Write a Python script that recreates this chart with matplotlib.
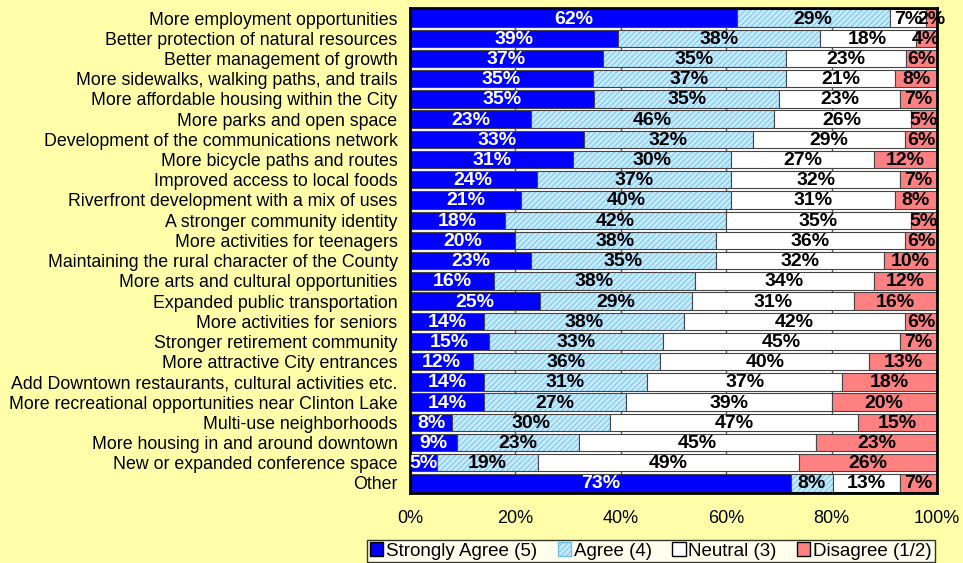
import numpy as np
import matplotlib.pyplot as plt

categories = [
    "More employment opportunities",
    "Better protection of natural resources",
    "Better management of growth",
    "More sidewalks, walking paths, and trails",
    "More affordable housing within the City",
    "More parks and open space",
    "Development of the communications network",
    "More bicycle paths and routes",
    "Improved access to local foods",
    "Riverfront development with a mix of uses",
    "A stronger community identity",
    "More activities for teenagers",
    "Maintaining the rural character of the County",
    "More arts and cultural opportunities",
    "Expanded public transportation",
    "More activities for seniors",
    "Stronger retirement community",
    "More attractive City entrances",
    "Add Downtown restaurants, cultural activities etc.",
    "More recreational opportunities near Clinton Lake",
    "Multi-use neighborhoods",
    "More housing in and around downtown",
    "New or expanded conference space",
    "Other",
]
strongly_agree = [62, 39, 37, 35, 35, 23, 33, 31, 24, 21, 18, 20, 23, 16, 25, 14, 15, 12, 14, 14, 8, 9, 5, 73]
agree = [29, 38, 35, 37, 35, 46, 32, 30, 37, 40, 42, 38, 35, 38, 29, 38, 33, 36, 31, 27, 30, 23, 19, 8]
neutral = [7, 18, 23, 21, 23, 26, 29, 27, 32, 31, 35, 36, 32, 34, 31, 42, 45, 40, 37, 39, 47, 45, 49, 13]
disagree = [2, 4, 6, 8, 7, 5, 6, 12, 7, 8, 5, 6, 10, 12, 16, 6, 7, 13, 18, 20, 15, 23, 26, 7]
series_names = ["Strongly Agree (5)", "Agree (4)", "Neutral (3)", "Disagree (1/2)"]

plt.rcParams['font.family'] = ['Liberation Sans', 'DejaVu Sans']
plt.rcParams['hatch.linewidth'] = 0.6
bg = '#FFFFAA'
hatch_col = '#6FBDEB'

fig = plt.figure(figsize=(9.63, 5.63), dpi=100, facecolor=bg)
ax = fig.add_axes([0.4258, 0.1243, 0.5472, 0.8615])
ax.set_facecolor('white')
ax.set_axisbelow(True)
ax.xaxis.grid(True, color='#555555', linewidth=1)

data = np.array([strongly_agree, agree, neutral, disagree], dtype=float)
shares = data / data.sum(axis=0) * 100
y = np.arange(len(categories))
h = 0.86

faces = ['#0000FF', '#C4EBFF', 'white', '#FF8080']
left = np.zeros(len(categories))
for i in range(4):
    if i == 1:
        ax.barh(y, shares[i], left=left, height=h, color=faces[i],
                edgecolor=hatch_col, hatch='//////', linewidth=0)
        ax.barh(y, shares[i], left=left, height=h, fill=False,
                edgecolor='#444444', linewidth=0.8)
    else:
        ax.barh(y, shares[i], left=left, height=h, color=faces[i],
                edgecolor='#444444', linewidth=0.8)
    for j in range(len(categories)):
        ax.text(left[j] + shares[i][j] / 2, y[j] + 0.05, f"{int(data[i][j])}%",
                ha='center', va='center', fontsize=14, fontweight='bold',
                color='white' if i == 0 else 'black')
    left += shares[i]

ax.set_xlim(0, 100)
ax.set_ylim(len(categories) - 0.5, -0.5)
ax.set_yticks(y)
ax.set_yticklabels(categories, fontsize=12.8)
ax.set_xticks(np.arange(0, 101, 20))
ax.set_xticklabels([f"{v}%" for v in range(0, 101, 20)], fontsize=13)
ax.tick_params(axis='y', length=0, pad=9)
ax.tick_params(axis='x', length=0, pad=12)
for s in ax.spines.values():
    s.set_linewidth(2)
    s.set_color('black')

handles = [plt.Rectangle((0, 0), 1, 1, facecolor=faces[0], edgecolor='black'),
           plt.Rectangle((0, 0), 1, 1, facecolor=faces[1], edgecolor=hatch_col, hatch='//////'),
           plt.Rectangle((0, 0), 1, 1, facecolor=faces[2], edgecolor='black'),
           plt.Rectangle((0, 0), 1, 1, facecolor=faces[3], edgecolor='black')]
leg = fig.legend(handles, series_names, loc='center', bbox_to_anchor=(651 / 963, 1 - 551 / 563),
                 ncol=4, fontsize=13.5, frameon=True, fancybox=False, handlelength=0.7,
                 handleheight=0.7, handletextpad=0.15, columnspacing=1.1, borderpad=0.15)
leg.get_frame().set_edgecolor('black')
leg.get_frame().set_facecolor('white')
leg.get_frame().set_linewidth(1)

fig.savefig('out.png', dpi=100, facecolor=bg)
